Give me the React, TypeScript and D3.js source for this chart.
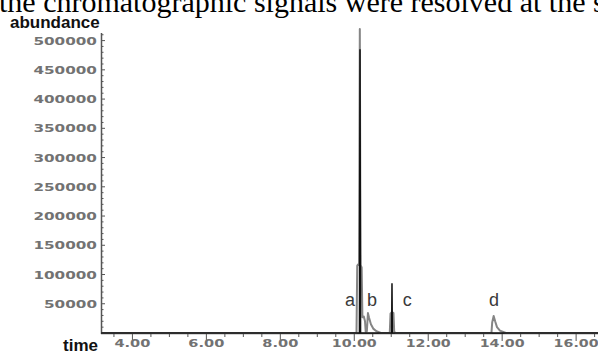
import { useEffect, useRef } from 'react';
import * as d3 from 'd3';

// gray trace (total signal) and black trace (target ion), [time, abundance]
const grayTrace: [number, number][] = [
  [3.15, 0], [10.06, 0], [10.08, 115000], [10.1, 117000], [10.13, 116000],
  [10.15, 520000], [10.17, 116000], [10.2, 112000], [10.22, 27000],
  [10.26, 28000], [10.29, 20000], [10.31, 2000], [10.34, 3000],
  [10.37, 34000], [10.4, 26000], [10.45, 15000], [10.52, 7000],
  [10.6, 3000], [10.72, 0], [10.96, 0], [10.98, 33000], [11.02, 36000],
  [11.06, 34000], [11.08, 2000], [11.12, 0], [13.71, 0], [13.73, 18000],
  [13.77, 29000], [13.81, 20000], [13.86, 10000], [13.94, 4000],
  [14.1, 0], [16.7, 0],
];

const blackTrace: [number, number][] = [
  [3.15, 0], [10.14, 0], [10.155, 485000], [10.17, 0],
  [11.01, 0], [11.02, 85000], [11.03, 0], [16.7, 0],
];

const peakLabels = ['a', 'b', 'c', 'd'];
const peakLabelTimes = [9.885, 10.48, 11.43, 13.78];

const yTicks = [50000, 100000, 150000, 200000, 250000, 300000, 350000, 400000, 450000, 500000];
const xTicks = [4, 6, 8, 10, 12, 14, 16];

const caption = 'the chromatographic signals were resolved at the s';

export default function App() {
  const svgRef = useRef<SVGSVGElement>(null);
  const width = 598;
  const height = 354;

  useEffect(() => {
    if (!svgRef.current) return;
    const svg = d3.select(svgRef.current);
    svg.selectAll('*').remove();

    const x = d3.scaleLinear().domain([3.15, 16.7]).range([101, 602]);
    const y = d3.scaleLinear().domain([0, 513000]).range([333, 33]);

    svg.append('rect').attr('width', width).attr('height', height).attr('fill', '#fff');

    // caption text cut at top of the picture
    svg.append('text')
      .attr('x', -1)
      .attr('y', 12)
      .attr('font-family', '"Liberation Serif", "Times New Roman", serif')
      .attr('font-size', 30)
      .attr('fill', '#000')
      .text(caption);

    // axis titles
    svg.append('text')
      .attr('x', 10)
      .attr('y', 28)
      .attr('font-family', '"Liberation Sans", Arial, sans-serif')
      .attr('font-weight', 'bold')
      .attr('font-size', 17)
      .attr('fill', '#111')
      .text('abundance');

    svg.append('text')
      .attr('x', 63)
      .attr('y', 351)
      .attr('font-family', '"Liberation Sans", Arial, sans-serif')
      .attr('font-weight', 'bold')
      .attr('font-size', 17)
      .attr('fill', '#111')
      .text('time');

    const axisColor = '#555';

    // y axis
    svg.append('line')
      .attr('x1', 101.5).attr('x2', 101.5)
      .attr('y1', y.range()[1]).attr('y2', 334)
      .attr('stroke', axisColor).attr('stroke-width', 1.5);

    svg.append('g')
      .selectAll('line')
      .data(d3.range(10000, 513000, 10000))
      .join('line')
      .attr('x1', 102).attr('x2', d => (d % 50000 === 0 ? 105 : 103.5))
      .attr('y1', d => y(d)).attr('y2', d => y(d))
      .attr('stroke', axisColor).attr('stroke-width', 1);

    svg.append('g')
      .selectAll('text')
      .data(yTicks)
      .join('text')
      .attr('x', 97)
      .attr('y', d => y(d) + 4)
      .attr('text-anchor', 'end')
      .attr('font-family', '"DejaVu Sans", sans-serif')
      .attr('font-weight', 'bold')
      .attr('font-size', 11)
      .attr('fill', '#727272')
      .attr('textLength', d => String(d).length * 10.6)
      .attr('lengthAdjust', 'spacingAndGlyphs')
      .text(d => String(d));

    // x axis
    svg.append('line')
      .attr('x1', 101).attr('x2', width)
      .attr('y1', 333.5).attr('y2', 333.5)
      .attr('stroke', axisColor).attr('stroke-width', 1.5);

    svg.append('g')
      .selectAll('line')
      .data(d3.range(3.5, 16.6, 0.5))
      .join('line')
      .attr('x1', d => x(d)).attr('x2', d => x(d))
      .attr('y1', 334)
      .attr('y2', d => (d % 2 === 0 ? 341 : 337))
      .attr('stroke', axisColor).attr('stroke-width', 1);

    svg.append('g')
      .selectAll('text')
      .data(xTicks)
      .join('text')
      .attr('x', d => x(d))
      .attr('y', 347)
      .attr('text-anchor', 'middle')
      .attr('font-family', '"DejaVu Sans", sans-serif')
      .attr('font-weight', 'bold')
      .attr('font-size', 11)
      .attr('fill', '#727272')
      .attr('textLength', d => d3.format('.2f')(d).length * 9)
      .attr('lengthAdjust', 'spacingAndGlyphs')
      .text(d => d3.format('.2f')(d));

    // traces
    const line = d3.line<[number, number]>()
      .x(d => x(d[0]))
      .y(d => y(d[1]));

    svg.append('path')
      .datum(grayTrace)
      .attr('d', line)
      .attr('fill', 'none')
      .attr('stroke', '#858585')
      .attr('stroke-width', 2)
      .attr('stroke-linejoin', 'round');

    svg.append('path')
      .datum(blackTrace)
      .attr('d', line)
      .attr('fill', 'none')
      .attr('stroke', '#111')
      .attr('stroke-width', 1.5);

    // peak letters
    svg.append('g')
      .selectAll('text')
      .data(peakLabels)
      .join('text')
      .attr('x', (_, i) => x(peakLabelTimes[i]))
      .attr('y', 306)
      .attr('text-anchor', 'middle')
      .attr('font-family', '"Liberation Sans", Arial, sans-serif')
      .attr('font-size', 18)
      .attr('fill', '#3a3a3a')
      .text(d => d);
  }, []);

  return (
    <svg
      ref={svgRef}
      width={width}
      height={height}
      style={{ position: 'absolute', left: 0, top: 0 }}
    />
  );
}
